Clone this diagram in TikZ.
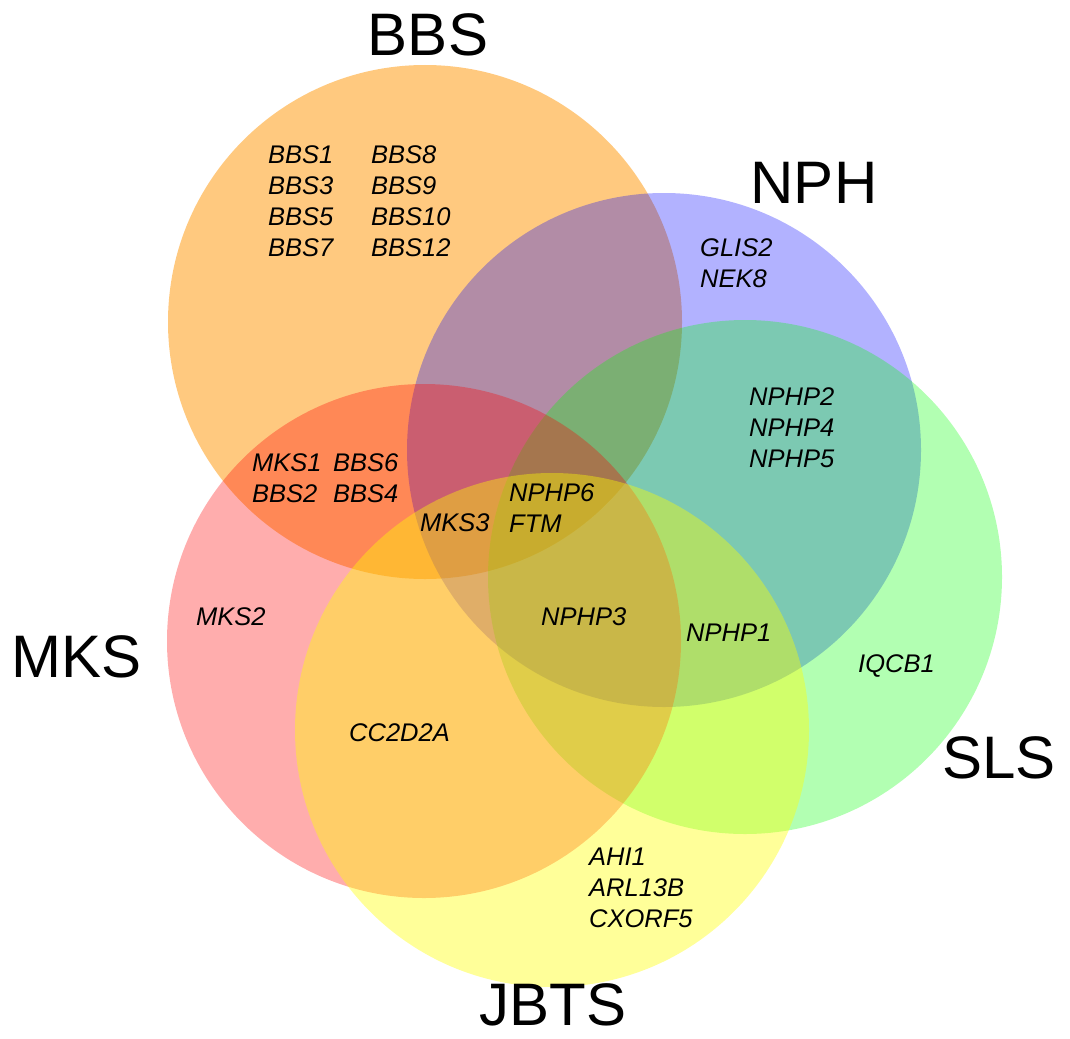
\documentclass[tikz,border=0pt]{standalone}
\usepackage{fontspec}
\setmainfont{Liberation Sans}
\usepackage{tikz}

\definecolor{bbscol}{RGB}{255,148,0}
\definecolor{nphcol}{RGB}{0,0,255}
\definecolor{slscol}{RGB}{0,255,0}
\definecolor{mkscol}{RGB}{255,0,0}
\definecolor{jbtscol}{RGB}{255,255,0}

\begin{document}
\begin{tikzpicture}[x=1pt, y=-1pt]
        \tikzset{SetStyle/.style={circle, minimum size=514pt, inner sep=0pt},
        SetName/.style={font=\fontsize{60}{60}\selectfont, inner sep=0pt},
        GeneStyle/.style={font=\fontsize{25.5}{31}\selectfont\itshape,
        inner sep=0pt, anchor=west, align=left}}
        \useasboundingbox (0,0) rectangle (1070,1038);
        % sets
        \node[SetStyle, fill=bbscol, fill opacity=0.5] (BBS) at (425,322) {};
        \node[SetStyle, fill=nphcol, fill opacity=0.3] (NPH) at (664,450) {};
        \node[SetStyle, fill=slscol, fill opacity=0.3] (SLS) at (745,577) {};
        \node[SetStyle, fill=mkscol, fill opacity=0.32] (MKS) at (424,641) {};
        \node[SetStyle, fill=jbtscol, fill opacity=0.4] (JBTS) at (552,730) {};
        % set names
        \node[SetName] (BBSname) at (428,35) {BBS};
        \node[SetName] (NPHname) at (814,183) {NPH};
        \node[SetName] (MKSname) at (77,657) {MKS};
        \node[SetName] (SLSname) at (999,758) {SLS};
        \node[SetName] (JBTSname) at (553,1005) {JBTS};
        % genes
        \node[GeneStyle] (bbsA) at (268,201) {BBS1\\BBS3\\BBS5\\BBS7};
        \node[GeneStyle] (bbsB) at (371,201) {BBS8\\BBS9\\BBS10\\BBS12};
        \node[GeneStyle] (nph) at (700,263) {GLIS2\\NEK8};
        \node[GeneStyle] (nphsls) at (749,428) {NPHP2\\NPHP4\\NPHP5};
        \node[GeneStyle] (bbsmksA) at (252,478) {MKS1\\BBS2};
        \node[GeneStyle] (bbsmksB) at (333,478) {BBS6\\BBS4};
        \node[GeneStyle] (core) at (509,508) {NPHP6\\FTM};
        \node[GeneStyle] (mks3) at (420,523) {MKS3};
        \node[GeneStyle] (mks) at (196,617) {MKS2};
        \node[GeneStyle] (nphp3) at (541,617) {NPHP3};
        \node[GeneStyle] (nphp1) at (686,633) {NPHP1};
        \node[GeneStyle] (sls) at (858,666) {IQCB1};
        \node[GeneStyle] (mksjbts) at (349,733) {CC2D2A};
        \node[GeneStyle] (jbts) at (589,888) {AHI1\\ARL13B\\CXORF5};
    \end{tikzpicture}
\end{document}
